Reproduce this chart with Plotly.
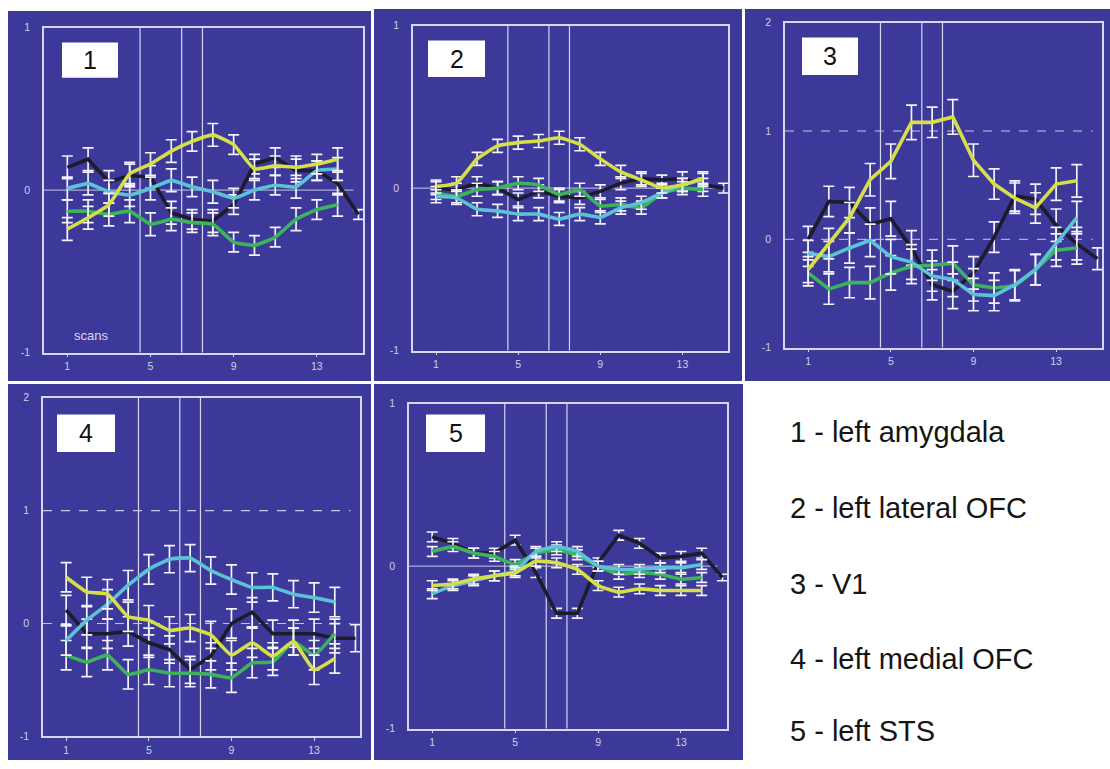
import plotly.graph_objects as go

W, H = 1110, 769
BLUE = "rgb(60,57,155)"

scans = list(range(1, 15))
scans_black = list(range(1, 16))
xticks = [1, 5, 9, 13]
markers_x = [4.5, 6.5, 7.5]

# Panel 1 - left amygdala
p1_black = [0.14, 0.19, 0.05, 0.09, 0.08, -0.14, -0.18, -0.19, -0.09, 0.16, 0.20, 0.12, 0.12, 0.04, -0.15]
p1_yellow = [-0.24, -0.17, -0.09, 0.10, 0.16, 0.24, 0.30, 0.34, 0.28, 0.13, 0.15, 0.14, 0.16, 0.19]
p1_cyan = [0.01, 0.04, -0.01, -0.03, 0.01, 0.06, 0.02, -0.01, -0.05, 0.00, 0.03, 0.02, 0.12, 0.13]
p1_green = [-0.13, -0.13, -0.15, -0.13, -0.21, -0.18, -0.20, -0.21, -0.32, -0.34, -0.29, -0.18, -0.12, -0.09]
p1_err = [0.07, 0.07, 0.07, 0.07, 0.07, 0.07, 0.06, 0.07, 0.06, 0.06, 0.06, 0.07, 0.06, 0.07, 0.03]

# Panel 2 - left lateral OFC
p2_black = [0.00, -0.01, 0.03, 0.00, -0.07, -0.02, -0.05, -0.06, -0.02, 0.03, 0.06, 0.05, 0.06, 0.02, 0.00]
p2_yellow = [0.01, 0.03, 0.18, 0.26, 0.28, 0.29, 0.31, 0.27, 0.18, 0.10, 0.05, 0.00, 0.02, 0.06]
p2_cyan = [-0.05, -0.06, -0.13, -0.14, -0.16, -0.16, -0.19, -0.16, -0.18, -0.12, -0.09, -0.03, 0.02, 0.05]
p2_green = [-0.03, -0.05, -0.01, 0.00, 0.03, 0.02, -0.04, -0.01, -0.11, -0.10, -0.12, -0.03, 0.00, -0.01]
p2_err = [0.04, 0.04, 0.04, 0.04, 0.04, 0.04, 0.04, 0.04, 0.04, 0.04, 0.04, 0.03, 0.04, 0.04, 0.03]

# Panel 3 - V1
p3_black = [0.00, 0.35, 0.34, 0.14, 0.19, -0.08, -0.42, -0.48, -0.31, 0.02, 0.40, 0.37, 0.13, -0.04, -0.18]
p3_yellow = [-0.28, -0.04, 0.20, 0.55, 0.72, 1.08, 1.08, 1.13, 0.73, 0.51, 0.38, 0.29, 0.51, 0.54]
p3_cyan = [-0.13, -0.16, -0.08, -0.01, -0.16, -0.21, -0.34, -0.37, -0.51, -0.52, -0.42, -0.28, -0.04, 0.20]
p3_green = [-0.31, -0.46, -0.40, -0.40, -0.31, -0.25, -0.24, -0.22, -0.42, -0.45, -0.43, -0.28, -0.10, -0.08]
p3_err = [0.12, 0.14, 0.14, 0.15, 0.16, 0.16, 0.14, 0.16, 0.15, 0.14, 0.14, 0.14, 0.15, 0.15, 0.10]

# Panel 4 - left medial OFC
p4_black = [0.12, -0.09, -0.09, -0.07, -0.17, -0.23, -0.41, -0.29, 0.00, 0.10, -0.09, -0.09, -0.09, -0.13, -0.13]
p4_yellow = [0.41, 0.28, 0.26, 0.06, 0.03, -0.06, -0.04, -0.10, -0.28, -0.17, -0.29, -0.16, -0.41, -0.31]
p4_cyan = [-0.15, 0.03, 0.17, 0.34, 0.48, 0.57, 0.58, 0.47, 0.39, 0.32, 0.32, 0.26, 0.23, 0.19]
p4_green = [-0.28, -0.34, -0.28, -0.45, -0.41, -0.44, -0.44, -0.45, -0.48, -0.35, -0.34, -0.16, -0.28, -0.09]
p4_err = [0.13, 0.13, 0.13, 0.13, 0.13, 0.12, 0.12, 0.12, 0.13, 0.13, 0.12, 0.12, 0.13, 0.13, 0.12]

# Panel 5 - left STS
p5_black = [0.18, 0.14, 0.08, 0.08, 0.16, -0.04, -0.29, -0.29, 0.02, 0.19, 0.14, 0.05, 0.06, 0.08, -0.07]
p5_yellow = [-0.12, -0.11, -0.08, -0.06, -0.04, 0.03, 0.02, -0.02, -0.12, -0.16, -0.14, -0.15, -0.15, -0.15]
p5_cyan = [-0.17, -0.12, -0.09, -0.06, -0.03, 0.09, 0.12, 0.09, 0.00, -0.02, -0.02, -0.01, -0.01, 0.01]
p5_green = [0.09, 0.12, 0.08, 0.06, 0.01, 0.08, 0.10, 0.07, 0.00, -0.05, -0.04, -0.05, -0.08, -0.07]
p5_err = [0.03, 0.03, 0.03, 0.03, 0.03, 0.03, 0.03, 0.03, 0.03, 0.03, 0.03, 0.03, 0.03, 0.03, 0.02]

panel_labels = ["1", "2", "3", "4", "5"]
legend_lines = ["1 - left amygdala", "2 - left lateral OFC", "3 - V1",
                "4 - left medial OFC", "5 - left STS"]

COLORS = {"black": "#1d1b2c", "green": "#3cb45a", "cyan": "#5cc3d6", "yellow": "#d6df48"}

panels = [
    dict(black=p1_black, yellow=p1_yellow, cyan=p1_cyan, green=p1_green, err=p1_err,
         yr=[-1, 1], yt=[-1, 0, 1], bg=(8, 371, 5, 381), ax=(44, 363, 22, 352),
         box=(62, 118, 37, 73), dash1=False, smooth=True),
    dict(black=p2_black, yellow=p2_yellow, cyan=p2_cyan, green=p2_green, err=p2_err,
         yr=[-1, 1], yt=[-1, 0, 1], bg=(374, 742, 3, 381), ax=(413, 728, 20, 350),
         box=(428, 485, 35, 72), dash1=False, smooth=True),
    dict(black=p3_black, yellow=p3_yellow, cyan=p3_cyan, green=p3_green, err=p3_err,
         yr=[-1, 2], yt=[-1, 0, 1, 2], bg=(745, 1110, 3, 381), ax=(785, 1102, 17, 347),
         box=(802, 858, 32, 70), dash1=True, smooth=False),
    dict(black=p4_black, yellow=p4_yellow, cyan=p4_cyan, green=p4_green, err=p4_err,
         yr=[-1, 2], yt=[-1, 0, 1, 2], bg=(8, 371, 384, 766), ax=(43, 360, 398, 742),
         box=(57, 115, 415, 453), dash1=True, smooth=True),
    dict(black=p5_black, yellow=p5_yellow, cyan=p5_cyan, green=p5_green, err=p5_err,
         yr=[-1, 1], yt=[-1, 0, 1], bg=(374, 743, 384, 766), ax=(409, 727, 404, 734),
         box=(426, 485, 415, 453), dash1=False, smooth=True),
]


def px(x):
    return x / W


def py(y):
    return 1 - y / H


fig = go.Figure()
shapes = []
annotations = []
layout = {}

for i, p in enumerate(panels):
    n = i + 1
    xa = "x" if n == 1 else f"x{n}"
    ya = "y" if n == 1 else f"y{n}"
    xkey = "xaxis" if n == 1 else f"xaxis{n}"
    ykey = "yaxis" if n == 1 else f"yaxis{n}"

    x0, x1, y0, y1 = p["bg"]
    shapes.append(dict(type="rect", xref="paper", yref="paper", x0=px(x0), x1=px(x1),
                       y0=py(y1), y1=py(y0), fillcolor=BLUE, line=dict(width=0), layer="below"))

    ax0, ax1, ay0, ay1 = p["ax"]
    axis_common = dict(showgrid=False, zeroline=False, showline=True, mirror=True,
                       linecolor="#d6d6ee", linewidth=1.5,
                       tickfont=dict(family="Liberation Sans, Arial", size=10.5, color="#d0d0e6"))
    layout[xkey] = dict(axis_common, domain=[px(ax0), px(ax1)], range=[-0.12, 15.22],
                        tickvals=xticks, ticks="outside", ticklen=3, tickcolor="#d6d6ee",
                        anchor=ya, fixedrange=True)
    layout[ykey] = dict(axis_common, domain=[py(ay1), py(ay0)], range=p["yr"],
                        tickvals=p["yt"], ticktext=[str(v) for v in p["yt"]], ticks="",
                        ticklabelstandoff=10, anchor=xa, fixedrange=True)

    # stimulus period lines
    for mx in markers_x:
        shapes.append(dict(type="line", xref=xa, yref=f"{ya} domain", x0=mx, x1=mx, y0=0, y1=1,
                           line=dict(color="#d6d6ee", width=1.2), layer="below"))
    # zero line
    shapes.append(dict(type="line", xref=f"{xa} domain", yref=ya, x0=0, x1=0.97, y0=0, y1=0,
                       line=dict(color="#c8c8e4", width=1, dash="dash" if p["dash1"] else "solid"),
                       layer="below"))
    if p["dash1"]:
        shapes.append(dict(type="line", xref=f"{xa} domain", yref=ya, x0=0, x1=0.97, y0=1, y1=1,
                           line=dict(color="#c8c8e4", width=1.2, dash="dash"), layer="below"))

    for key in ["black", "green", "cyan", "yellow"]:
        xs = scans_black if key == "black" else scans
        vals = p[key]
        smooth = p["smooth"] and key != "black"
        line = dict(color=COLORS[key], width=3.6)
        if smooth:
            line.update(shape="spline", smoothing=0.4)
        fig.add_trace(go.Scatter(
            x=xs, y=vals, mode="lines", xaxis=xa, yaxis=ya, showlegend=False,
            line=line,
            error_y=dict(type="data", array=p["err"][:len(vals)], color="#f2f2f8",
                         thickness=1.7, width=5.5),
            hoverinfo="skip"))

    bx0, bx1, by0, by1 = p["box"]
    shapes.append(dict(type="rect", xref="paper", yref="paper", x0=px(bx0), x1=px(bx1),
                       y0=py(by1), y1=py(by0), fillcolor="white", line=dict(width=0)))
    annotations.append(dict(xref="paper", yref="paper", x=px((bx0 + bx1) / 2),
                            y=py((by0 + by1) / 2), text=panel_labels[i], showarrow=False,
                            xanchor="center", yanchor="middle",
                            font=dict(family="Liberation Sans, Arial", size=25, color="#111")))

# "scans" label in panel 1
annotations.append(dict(xref="paper", yref="paper", x=px(91), y=py(335), text="scans",
                        showarrow=False, xanchor="center", yanchor="middle",
                        font=dict(family="Liberation Sans, Arial", size=13, color="#d8d8ee")))

legend_y = [433, 510, 587, 663, 737]
for t, yy in zip(legend_lines, legend_y):
    annotations.append(dict(xref="paper", yref="paper", x=px(788), y=py(yy), text=t,
                            showarrow=False, xanchor="left", yanchor="middle",
                            font=dict(family="Liberation Sans, Arial", size=29, color="#151515")))

fig.update_layout(
    width=W, height=H, margin=dict(l=0, r=0, t=0, b=0),
    paper_bgcolor="white", plot_bgcolor=BLUE,
    shapes=shapes, annotations=annotations, showlegend=False,
    **layout,
)

fig.write_html("out.html", config={"displayModeBar": False},
               post_script="document.body.style.margin='0';document.body.style.overflow='hidden';")
